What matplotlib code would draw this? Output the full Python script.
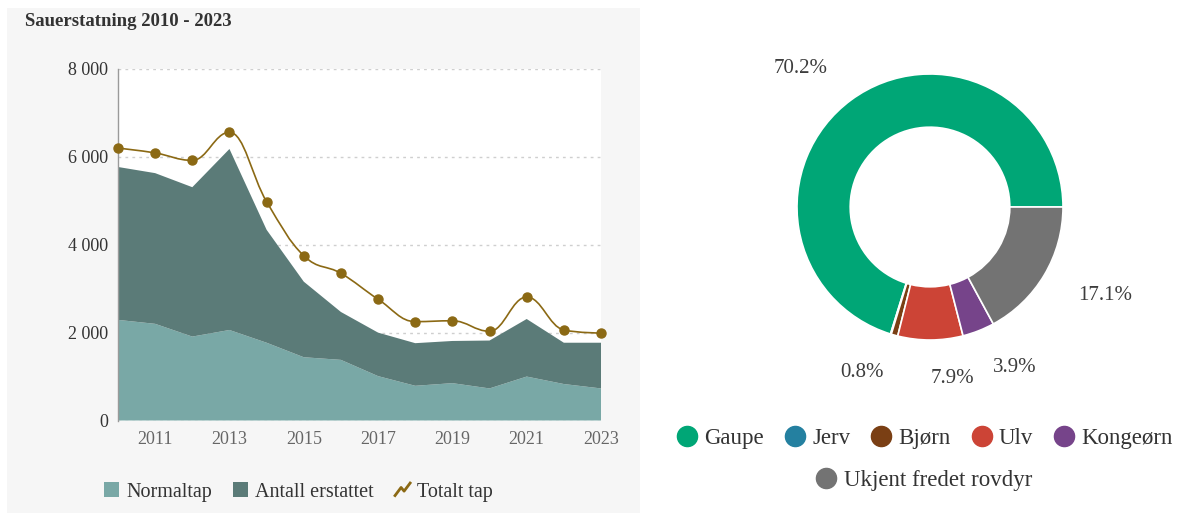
import numpy as np
import matplotlib
matplotlib.use("Agg")
import matplotlib.pyplot as plt
from matplotlib.path import Path
from matplotlib.patches import PathPatch, Patch, Rectangle
from matplotlib.lines import Line2D
from matplotlib.legend_handler import HandlerBase
from matplotlib.ticker import FuncFormatter, FixedLocator

plt.rcParams['font.family'] = ['Liberation Serif', 'DejaVu Serif']

# ---------------- data ----------------
years = [2010, 2011, 2012, 2013, 2014, 2015, 2016, 2017, 2018, 2019, 2020, 2021, 2022, 2023]
normaltap = [2290, 2200, 1910, 2060, 1770, 1440, 1380, 1010, 790, 850, 730, 1000, 830, 730]
antall_erstattet = [3480, 3430, 3400, 4120, 2570, 1720, 1090, 990, 970, 960, 1090, 1310, 940, 1040]
totalt_tap = [6200, 6090, 5920, 6560, 4980, 3750, 3350, 2760, 2250, 2270, 2030, 2810, 2060, 1990]
y_ticks = [0, 2000, 4000, 6000, 8000]
x_ticks = [2011, 2013, 2015, 2017, 2019, 2021, 2023]
area_labels = ["Normaltap", "Antall erstattet", "Totalt tap"]
title = "Sauerstatning 2010 - 2023"

pie_labels = ["Gaupe", "Jerv", "Bjørn", "Ulv", "Kongeørn", "Ukjent fredet rovdyr"]
pie_values = [70.2, 0.1, 0.8, 7.9, 3.9, 17.1]
pie_colors = ["#00a676", "#2480a0", "#7a3f14", "#cc4436", "#76448a", "#737373"]

c_normal = "#79a8a6"
c_erst = "#5b7b78"
c_line = "#8b6914"

W, H = 1183, 514
fig = plt.figure(figsize=(W / 100, H / 100), dpi=100)
fig.patch.set_facecolor("white")


def fx(px):
    return px / W


def fy(py):
    return 1 - py / H


# left panel background
fig.patches.append(Rectangle((fx(7), fy(513)), fx(640) - fx(7), fy(8) - fy(513),
                             transform=fig.transFigure, facecolor="#f6f6f6",
                             edgecolor="none", zorder=-5))

fig.text(fx(25), fy(22), title, fontsize=13.5, fontweight="bold", color="#333333",
         ha="left", va="center")

# ---------------- area chart ----------------
ax = fig.add_axes([fx(118), fy(420.5), fx(601) - fx(118), fy(69) - fy(420.5)])
ax.set_zorder(1)
ax.set_facecolor("white")
ax.stackplot(years, normaltap, antall_erstattet, colors=[c_normal, c_erst],
             linewidth=0, zorder=1)


def hc_spline(xs, ys, smoothing=1.5):
    n = len(xs)
    denom = smoothing + 1
    lc = [None] * n
    rc = [None] * n
    for i in range(n):
        x, y = xs[i], ys[i]
        if i == 0 or i == n - 1:
            lc[i] = (x, y)
            rc[i] = (x, y)
            continue
        lx, ly = xs[i - 1], ys[i - 1]
        nx, ny = xs[i + 1], ys[i + 1]
        lcx = (smoothing * x + lx) / denom
        lcy = (smoothing * y + ly) / denom
        rcx = (smoothing * x + nx) / denom
        rcy = (smoothing * y + ny) / denom
        if rcx != lcx:
            corr = ((rcy - lcy) * (rcx - x)) / (rcx - lcx) + y - rcy
            lcy += corr
            rcy += corr
        if lcy > ly and lcy > y:
            lcy = max(ly, y)
            rcy = 2 * y - lcy
        elif lcy < ly and lcy < y:
            lcy = min(ly, y)
            rcy = 2 * y - lcy
        if rcy > ny and rcy > y:
            rcy = max(ny, y)
            lcy = 2 * y - rcy
        elif rcy < ny and rcy < y:
            rcy = min(ny, y)
            lcy = 2 * y - rcy
        lc[i] = (lcx, lcy)
        rc[i] = (rcx, rcy)
    verts = [(xs[0], ys[0])]
    codes = [Path.MOVETO]
    for i in range(1, n):
        verts += [rc[i - 1], lc[i], (xs[i], ys[i])]
        codes += [Path.CURVE4] * 3
    return Path(verts, codes)


ax.add_patch(PathPatch(hc_spline(years, totalt_tap), facecolor="none",
                       edgecolor=c_line, linewidth=1.2, zorder=3))
ax.plot(years, totalt_tap, linestyle="none", marker="o", markersize=6.5,
        color=c_line, zorder=4, clip_on=False)

ax.set_xlim(years[0], years[-1])
ax.set_ylim(y_ticks[0], y_ticks[-1])
ax.yaxis.set_major_locator(FixedLocator(y_ticks))
ax.xaxis.set_major_locator(FixedLocator(x_ticks))
ax.yaxis.set_major_formatter(FuncFormatter(lambda v, p: f"{int(v):,}".replace(",", " ")))
ax.set_axisbelow(True)
ax.yaxis.grid(True, linestyle=(0, (2, 3)), color="#cfcfcf", linewidth=1)
for s in ["top", "right", "bottom"]:
    ax.spines[s].set_visible(False)
ax.spines["left"].set_color("#9a9a9a")
ax.spines["left"].set_linewidth(1)
ax.tick_params(axis="both", length=0, labelsize=13)
ax.tick_params(axis="y", pad=7, labelcolor="#333333")
ax.tick_params(axis="x", pad=7.5, labelcolor="#666666")


class ZigzagHandler(HandlerBase):
    def create_artists(self, legend, orig_handle, xdescent, ydescent, width,
                       height, fontsize, trans):
        xs = np.array([0, 0.4, 0.6, 1.0]) * width - xdescent
        ys = np.array([0.1, 0.65, 0.4, 0.95]) * height - ydescent
        ln = Line2D(xs, ys, color=c_line, linewidth=2, transform=trans)
        return [ln]


handles = [Patch(facecolor=c_normal, edgecolor="none"),
           Patch(facecolor=c_erst, edgecolor="none"),
           Line2D([], [], color=c_line)]
fig.legend(handles, area_labels, loc="center", bbox_to_anchor=(fx(298.5), fy(492)),
           ncol=3, frameon=False, fontsize=14.5, handlelength=0.75, handleheight=0.75,
           handletextpad=0.35, columnspacing=1.05, labelcolor="#333333",
           handler_map={Line2D: ZigzagHandler()})

# ---------------- donut ----------------
R = 133
pax = fig.add_axes([fx(930 - R), fy(207 + R), fx(2 * R), 2 * R / H])
wedges, _ = pax.pie(pie_values, colors=pie_colors, startangle=0, counterclock=True,
                    radius=1, wedgeprops=dict(width=0.4, edgecolor="white", linewidth=1.2))
pax.set_xlim(-1, 1)
pax.set_ylim(-1, 1)
pax.set_aspect("equal")
pax.axis("off")

label_r = 172 / R
for w, v in zip(wedges, pie_values):
    if v < 0.5:
        continue
    ang = np.deg2rad((w.theta1 + w.theta2) / 2)
    cx, cy = np.cos(ang), np.sin(ang)
    pax.text(label_r * cx, label_r * cy, f"{v:.1f}%", fontsize=15, color="#3d3d3d",
             ha="left" if cx >= 0 else "right", va="center", clip_on=False)

mk = [Line2D([], [], linestyle="none", marker="o", markersize=14.5,
             markerfacecolor=c, markeredgecolor=c) for c in pie_colors]
fig.legend(mk[:5], pie_labels[:5], loc="center", bbox_to_anchor=(fx(925), fy(438)),
           ncol=5, frameon=False, fontsize=16.5, handlelength=0.9,
           handletextpad=0.3, columnspacing=0.9, labelcolor="#333333")
fig.legend(mk[5:], pie_labels[5:], loc="center", bbox_to_anchor=(fx(924), fy(480)),
           ncol=1, frameon=False, fontsize=16.5, handlelength=0.9,
           handletextpad=0.3, columnspacing=0.9, labelcolor="#333333")

fig.savefig("out.png", dpi=100, facecolor=fig.get_facecolor())
